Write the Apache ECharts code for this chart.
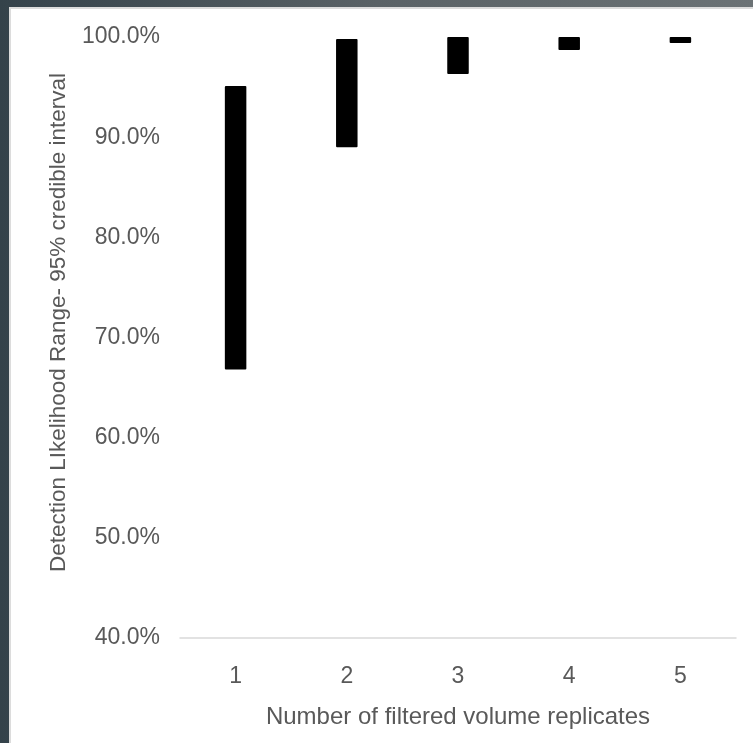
<!DOCTYPE html>
<html>
<head>
<meta charset="utf-8">
<script src="https://cdn.jsdelivr.net/npm/echarts@6/dist/echarts.min.js"></script>
<style>
  html, body { margin: 0; padding: 0; }
  body {
    width: 753px; height: 743px; overflow: hidden;
    background: linear-gradient(to right, #34424a, #5a6266 50%, #6b7275);
    position: relative;
  }
  #frame {
    position: absolute; left: 9px; top: 7px; right: 0; bottom: 0;
    background: #fff;
    border-left: 2px solid #dcdcdc;
    border-top: 2px solid #dcdcdc;
  }
  #chart { width: 742px; height: 734px; }
</style>
</head>
<body>
<div id="frame"><div id="chart"></div></div>
<script>
// replicates on the x axis
var replicates = ['1', '2', '3', '4', '5'];
// 95% credible interval, lower and upper bound
var lowerBound = [0.668, 0.890, 0.963, 0.987, 0.994];
var upperBound = [0.951, 0.998, 1.000, 1.000, 1.000];
// y axis range
var yMin = 0.4, yMax = 1.0, yStep = 0.1;

var rangeSize = upperBound.map(function (u, i) { return +(u - lowerBound[i]).toFixed(4); });

var labelColor = '#595959';
var fontFam = '"Liberation Sans", Arial, sans-serif';

var myChart = echarts.init(document.getElementById('chart'));
var option = {
  animation: false,
  grid: { left: 169, right: 17, top: 28, bottom: 105 },
  xAxis: {
    type: 'category',
    data: replicates,
    name: 'Number of filtered volume replicates',
    nameLocation: 'middle',
    nameGap: 67,
    nameTextStyle: { color: labelColor, fontSize: 24, fontFamily: fontFam },
    axisLine: { lineStyle: { color: '#d9d9d9', width: 1.5 } },
    axisTick: { show: false },
    axisLabel: { color: labelColor, fontSize: 23, fontFamily: fontFam, margin: 27 }
  },
  yAxis: {
    type: 'value',
    min: yMin,
    max: yMax,
    interval: yStep,
    name: 'Detection LIkelihood Range- 95% credible interval',
    nameLocation: 'middle',
    nameGap: 110,
    nameTextStyle: { color: labelColor, fontSize: 22.5, fontFamily: fontFam, padding: [0, 0, 0, 30] },
    axisLine: { show: false },
    axisTick: { show: false },
    splitLine: { show: false },
    axisLabel: {
      color: labelColor, fontSize: 23, fontFamily: fontFam, margin: 20,
      formatter: function (v) { return (v * 100).toFixed(1) + '%'; }
    }
  },
  series: [
    {
      name: 'base',
      type: 'bar',
      stack: 'ci',
      barWidth: 21.5,
      itemStyle: { color: 'transparent' },
      silent: true,
      data: lowerBound
    },
    {
      name: 'range',
      type: 'bar',
      stack: 'ci',
      barWidth: 21.5,
      itemStyle: { color: '#000000', borderRadius: 1 },
      data: rangeSize
    }
  ]
};
myChart.setOption(option);
</script>
</body>
</html>
